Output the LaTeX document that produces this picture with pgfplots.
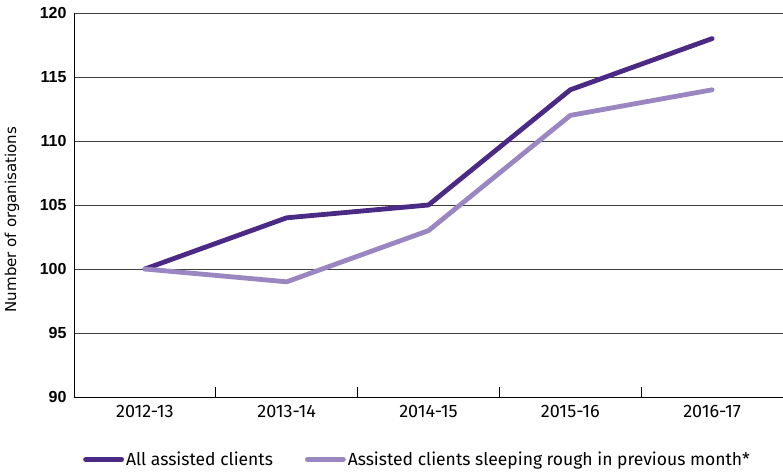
\documentclass[border=0pt]{standalone}
\usepackage{pgfplots}
\pgfplotsset{compat=1.18}
\usepackage{fontspec}
\setmainfont{Fira Sans}
\newfontfamily\tickfont{Liberation Sans}
\newfontfamily\labfont{DejaVu Sans}
\definecolor{darkp}{HTML}{4B2A85}
\definecolor{lightp}{HTML}{9A86C0}
\begin{document}
\begin{tikzpicture}
\useasboundingbox (-74pt,-74pt) rectangle (709pt,397pt);
\begin{axis}[
  at={(0,0)}, anchor=south west,
  scale only axis, width=709pt, height=384pt,
  xmin=-0.5, xmax=4.5, ymin=90, ymax=120,
  axis x line*=bottom, axis y line*=left,
  axis line style={-, black, line width=0.8pt},
  xtick={0,1,2,3,4},
  xticklabels={2012-13,2013-14,2014-15,2015-16,2016-17},
  major x tick style={draw=none},
  minor xtick={0.5,1.5,2.5,3.5},
  minor x tick style={black, line width=0.8pt},
  minor tick length=10pt,
  tick align=inside,
  ytick={90,95,...,120},
  major y tick style={draw=none},
  ymajorgrids, grid style={black!75, line width=0.7pt},
  yticklabel style={font=\tickfont\bfseries\fontsize{16}{18}\selectfont, xshift=-4pt},
  xticklabel style={font=\fontsize{18}{20}\selectfont, yshift=-5pt},
  /pgf/number format/assume math mode=true,
  ylabel={Number of organisations},
  every axis y label/.style={at={(rel axis cs:0,0.462)}, xshift=-62pt, rotate=90, anchor=center,
    font=\labfont\fontsize{15}{17}\selectfont},
  legend style={at={(0.4845,-0.132)}, anchor=north, draw=none, legend columns=2,
    font=\fontsize{17.5}{19}\selectfont, /tikz/every even column/.append style={column sep=30pt}},
  legend image code/.code={\draw[#1, line cap=round] (-2pt,0pt) -- (34pt,0pt);},
  clip=false,
]
\addplot[darkp, line width=4.8pt, line cap=round, line join=round] coordinates {(0,100) (1,104) (2,105) (3,114) (4,118)};
\addlegendentry{All assisted clients}
\addplot[lightp, line width=4.8pt, line cap=round, line join=round] coordinates {(0,100) (1,99) (2,103) (3,112) (4,114)};
\addlegendentry{Assisted clients sleeping rough in previous month*}
\end{axis}
\end{tikzpicture}
\end{document}
